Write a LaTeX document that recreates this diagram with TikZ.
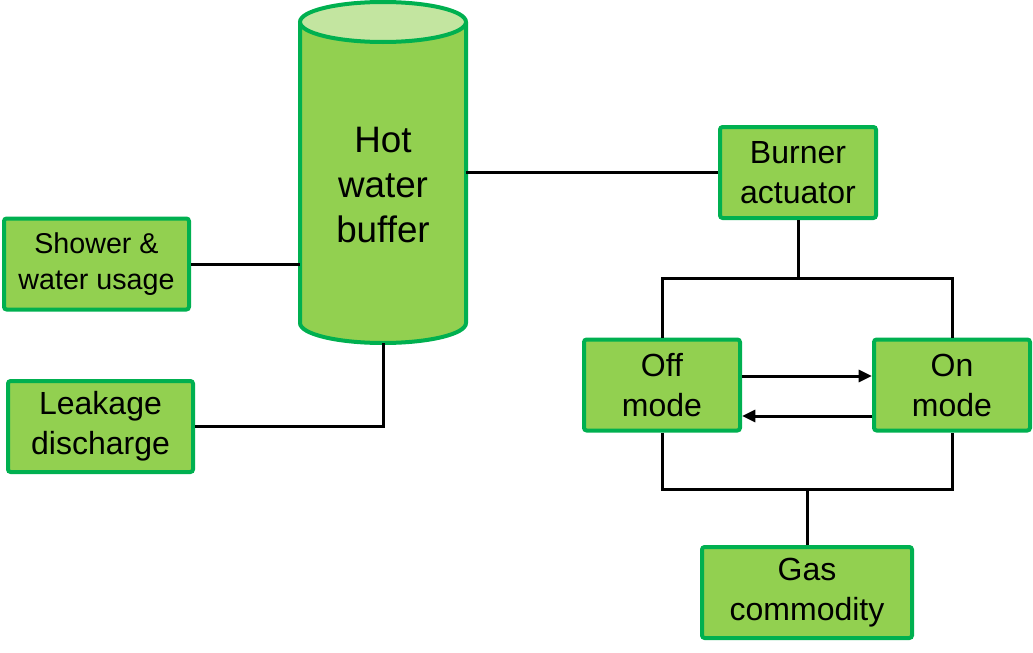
\documentclass[tikz,border=0pt]{standalone}
\usepackage{fontspec}
\setmainfont{Liberation Sans}
\usetikzlibrary{arrows.meta,calc,fit,positioning}
\definecolor{leaf}{HTML}{92D050}
\definecolor{rim}{HTML}{00B050}
\definecolor{lid}{HTML}{C3E5A0}
\definecolor{ink}{HTML}{000000}
\tikzset{
  greenbox/.style={draw=rim,fill=leaf,line width=3pt,rounded corners=2pt,align=center,text=ink,
    inner sep=2pt,minimum height=68.25pt,font=\fontsize{24}{30}\selectfont},
  wire/.style={line width=2.25pt,draw=ink},
  flow/.style={wire,-{Triangle[length=10pt,width=9pt]}}
}
\begin{document}
\begin{tikzpicture}[
    x=0.75pt,y=-0.75pt,
    wide/.style={greenbox,minimum width=138.75pt},
    mode/.style={greenbox,minimum width=117pt},
    tank/.style={draw=rim,line width=3pt},
    tanklabel/.style={font=\fontsize{27.6}{34}\selectfont,align=center,text=ink}
  ]
    \useasboundingbox (0,0) rectangle (1033,653);

    % hot water buffer
    \fill[leaf] (300,22) -- (300,323) arc[start angle=180,end angle=0,x radius=83,y radius=20] -- (466,22) -- cycle;
    \draw[tank] (300,22) -- (300,323) arc[start angle=180,end angle=0,x radius=83,y radius=20] -- (466,22);
    \draw[tank,fill=lid] (383,22) ellipse[x radius=83,y radius=20];
    \node[fit={(300,2) (466,343)},inner sep=0pt] (buffer) {};
    \node[tanklabel] (bufferlabel) at (383,185) {Hot\\water\\buffer};

    \node[wide,font=\fontsize{21.5}{26.5}\selectfont] (shower) at (96.5,264) {Shower \&\\water usage};
    \node[wide] (leak) at (100.5,426.5) {Leakage\\discharge};
    \node[mode] (burner) at (798,172.5) {Burner\\actuator};
    \node[mode] (off) at (662,385) {Off\\mode};
    \node[mode] (on) at (952,385) {On\\mode};
    \node[greenbox,minimum width=157.5pt] (gas) at (807,592.5) {Gas\\commodity};

    \coordinate (upbus) at (798,278);
    \coordinate (lowbus) at (807,489);

    \draw[wire] (shower.east) -- (shower.east -| buffer.west);
    \draw[wire] (leak.east) -| (buffer.south);
    \draw[wire] (buffer.east |- burner.west) -- (burner.west);
    \draw[wire] (burner.south) -- (upbus);
    \draw[wire] (off.north) |- (upbus) -| (on.north);
    \draw[wire] (off.south) |- (lowbus) -| (on.south);
    \draw[wire] (gas.north) -- (lowbus);

    \draw[flow] ($(off.east)+(0,-9)$) -- ($(on.west)+(0,-9)$);
    \draw[flow] ($(on.west)+(0,31)$) -- ($(off.east)+(0,31)$);
\end{tikzpicture}
\end{document}
